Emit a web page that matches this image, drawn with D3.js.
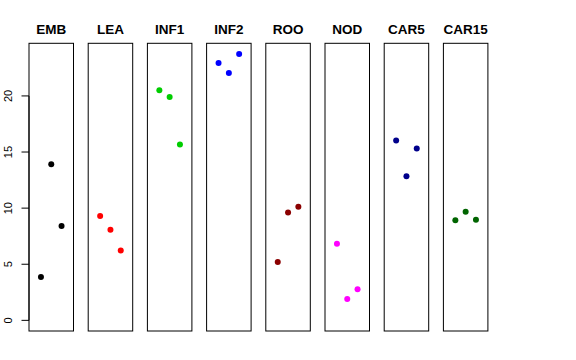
<!DOCTYPE html>
<html>
<head>
<meta charset="utf-8">
<script src="https://cdn.jsdelivr.net/npm/d3@7"></script>
<style>
html,body{margin:0;padding:0;background:#fff;}
svg{display:block;}
text{font-family:"Liberation Sans",Arial,Helvetica,sans-serif;}
</style>
</head>
<body>
<svg id="chart" width="576" height="360"></svg>
<script>
const categories = ["EMB","LEA","INF1","INF2","ROO","NOD","CAR5","CAR15"];
const colors = ["#000000","#FF0000","#00CD00","#0000FF","#8B0000","#FF00FF","#00008B","#006400"];
const values = [
  [3.86, 13.92, 8.40],
  [9.31, 8.07, 6.23],
  [20.50, 19.91, 15.67],
  [22.94, 22.05, 23.74],
  [5.19, 9.62, 10.12],
  [6.82, 1.90, 2.76],
  [16.03, 12.85, 15.32],
  [8.93, 9.67, 8.96]
];
const yTicks = [0, 5, 10, 15, 20];

(function () {
const svg = d3.select("#chart");
const plotTop = 43.3, plotBottom = 331;
const panelW = 44.5, step = 59.2, left0 = 29;

const yMax = d3.max(values.flat());
const ext = yMax * 0.04;
const y = d3.scaleLinear().domain([-ext, yMax + ext]).range([plotBottom, plotTop]);

const panelX = d3.scaleLinear().domain([0, 1]).range([left0, left0 + step]);

categories.forEach((cat, i) => {
  const x0 = panelX(i);
  const x = d3.scaleLinear().domain([-0.16, 4.16]).range([x0, x0 + panelW]);
  const g = svg.append("g");
  g.append("rect")
    .attr("x", x0).attr("y", plotTop)
    .attr("width", panelW).attr("height", plotBottom - plotTop)
    .attr("fill", "none").attr("stroke", "#000").attr("stroke-width", 1);
  g.append("text")
    .attr("x", x0 + panelW / 2).attr("y", 34.3)
    .attr("text-anchor", "middle")
    .attr("font-weight", "bold").attr("font-size", "13.5px")
    .text(cat);
  g.selectAll("circle").data(values[i]).enter().append("circle")
    .attr("cx", (d, j) => x(j + 1))
    .attr("cy", d => y(d))
    .attr("r", 3)
    .attr("fill", colors[i]);
});

// left axis
const axisG = svg.append("g");
axisG.append("line")
  .attr("x1", left0).attr("x2", left0)
  .attr("y1", y(yTicks[0])).attr("y2", y(yTicks[yTicks.length - 1]))
  .attr("stroke", "#000");
yTicks.forEach(t => {
  axisG.append("line")
    .attr("x1", left0 - 7.5).attr("x2", left0)
    .attr("y1", y(t)).attr("y2", y(t))
    .attr("stroke", "#000");
  axisG.append("text")
    .attr("transform", `translate(${11.5},${y(t)}) rotate(-90)`)
    .attr("text-anchor", "middle")
    .attr("font-size", "11px")
    .text(t);
});
})();
</script>
</body>
</html>
